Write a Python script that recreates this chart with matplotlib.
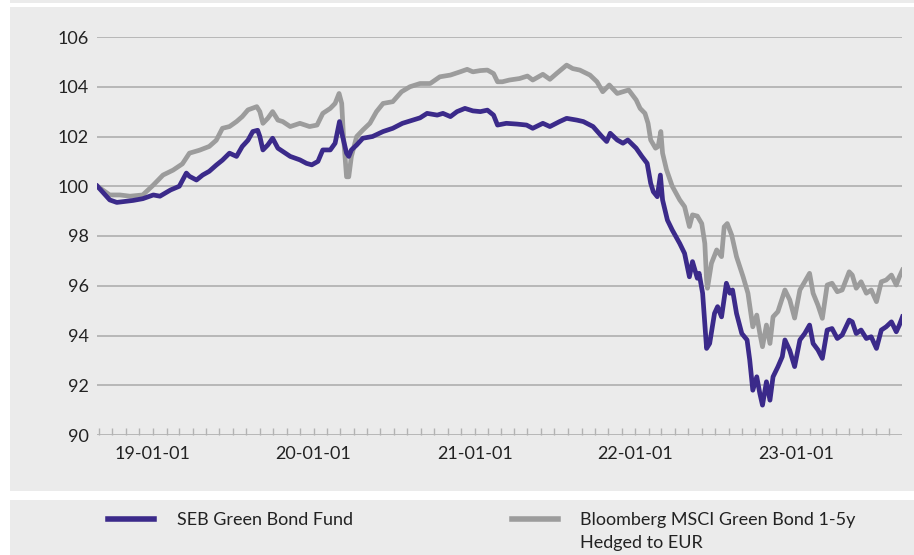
import matplotlib
matplotlib.use("Agg")
import numpy as np
import pandas as pd
import matplotlib.pyplot as plt
import matplotlib.dates as mdates
from matplotlib.patches import Rectangle
from matplotlib.lines import Line2D

plt.rcParams['font.family'] = ['Lato', 'DejaVu Sans']

# SEB Green Bond Fund (indexed)
seb_dates = [
    "2018-08-28", "2018-09-25", "2018-10-11", "2018-11-04", "2018-11-17", "2018-12-09",
    "2019-01-02", "2019-01-17", "2019-02-10", "2019-03-02", "2019-03-18", "2019-03-25",
    "2019-04-10", "2019-04-24", "2019-05-09", "2019-05-25", "2019-06-08", "2019-06-24",
    "2019-07-10", "2019-07-23", "2019-08-05", "2019-08-16", "2019-08-27", "2019-09-01",
    "2019-09-08", "2019-09-19", "2019-09-30", "2019-10-12", "2019-10-23", "2019-11-09",
    "2019-12-01", "2019-12-16", "2019-12-28", "2020-01-11", "2020-01-22", "2020-02-08",
    "2020-02-19", "2020-02-29", "2020-03-07", "2020-03-16", "2020-03-21", "2020-03-27",
    "2020-04-08", "2020-04-22", "2020-05-14", "2020-06-07", "2020-06-29", "2020-07-21",
    "2020-08-14", "2020-08-30", "2020-09-15", "2020-10-08", "2020-10-21", "2020-11-07",
    "2020-11-22", "2020-12-10", "2020-12-28", "2021-01-14", "2021-01-30", "2021-02-13",
    "2021-02-22", "2021-03-14", "2021-04-07", "2021-04-29", "2021-05-13", "2021-06-05",
    "2021-06-21", "2021-07-13", "2021-07-29", "2021-08-21", "2021-09-05", "2021-09-27",
    "2021-10-17", "2021-10-28", "2021-11-05", "2021-11-21", "2021-12-04", "2021-12-15",
    "2022-01-03", "2022-01-16", "2022-01-28", "2022-02-05", "2022-02-11", "2022-02-20",
    "2022-02-27", "2022-03-04", "2022-03-15", "2022-03-26", "2022-04-12", "2022-04-23",
    "2022-05-04", "2022-05-11", "2022-05-22", "2022-05-26", "2022-06-03", "2022-06-12",
    "2022-06-19", "2022-06-30", "2022-07-07", "2022-07-16", "2022-07-27", "2022-08-04",
    "2022-08-10", "2022-08-19", "2022-08-31", "2022-09-12", "2022-09-18", "2022-09-25",
    "2022-10-04", "2022-10-11", "2022-10-17", "2022-10-26", "2022-11-03", "2022-11-10",
    "2022-11-21", "2022-12-01", "2022-12-07", "2022-12-18", "2022-12-29", "2023-01-10",
    "2023-01-21", "2023-02-01", "2023-02-09", "2023-02-20", "2023-03-02", "2023-03-13",
    "2023-03-24", "2023-04-05", "2023-04-16", "2023-05-02", "2023-05-09", "2023-05-18",
    "2023-05-29", "2023-06-10", "2023-06-21", "2023-07-03", "2023-07-14", "2023-07-25",
    "2023-08-06", "2023-08-17", "2023-08-24", "2023-08-31",
]
seb_values = [
    100.0, 99.45, 99.35, 99.4, 99.43, 99.5,
    99.65, 99.6, 99.85, 100.0, 100.53, 100.4,
    100.25, 100.45, 100.6, 100.85, 101.05, 101.33,
    101.2, 101.6, 101.85, 102.2, 102.25, 102.0,
    101.46, 101.66, 101.93, 101.53, 101.4, 101.2,
    101.06, 100.92, 100.86, 101.0, 101.46, 101.46,
    101.73, 102.6, 102.0, 101.33, 101.2, 101.46,
    101.66, 101.93, 102.0, 102.2, 102.33, 102.53,
    102.66, 102.75, 102.93, 102.86, 102.93, 102.8,
    103.0, 103.13, 103.03, 103.0, 103.06, 102.86,
    102.46, 102.53, 102.5, 102.46, 102.33, 102.53,
    102.4, 102.6, 102.73, 102.66, 102.6, 102.4,
    102.0, 101.8, 102.13, 101.86, 101.73, 101.86,
    101.53, 101.2, 100.92, 100.12, 99.78, 99.58,
    100.45, 99.45, 98.64, 98.24, 97.7, 97.3,
    96.36, 96.97, 96.3, 96.5, 95.7, 93.48,
    93.68, 94.89, 95.16, 94.75, 96.1, 95.7,
    95.83, 94.89, 94.08, 93.82, 93.02, 91.8,
    92.34, 91.67, 91.2, 92.14, 91.4, 92.34,
    92.74, 93.15, 93.82, 93.4, 92.75, 93.82,
    94.08, 94.42, 93.68, 93.42, 93.08, 94.22,
    94.28, 93.88, 94.02, 94.62, 94.55, 94.08,
    94.22, 93.88, 93.95, 93.48, 94.22, 94.35,
    94.55, 94.15, 94.42, 94.75,
]

# Bloomberg MSCI Green Bond 1-5y Hedged to EUR
msci_dates = [
    "2018-08-28", "2018-09-25", "2018-10-18", "2018-11-10", "2018-12-09", "2019-01-02",
    "2019-01-24", "2019-02-16", "2019-03-09", "2019-03-25", "2019-04-17", "2019-05-09",
    "2019-05-25", "2019-06-08", "2019-06-24", "2019-07-10", "2019-07-23", "2019-08-05",
    "2019-08-25", "2019-09-01", "2019-09-08", "2019-09-19", "2019-09-30", "2019-10-12",
    "2019-10-23", "2019-11-09", "2019-12-01", "2019-12-23", "2020-01-09", "2020-01-22",
    "2020-02-08", "2020-02-19", "2020-02-28", "2020-03-05", "2020-03-09", "2020-03-16",
    "2020-03-21", "2020-03-27", "2020-04-08", "2020-04-22", "2020-05-08", "2020-05-23",
    "2020-06-07", "2020-06-29", "2020-07-19", "2020-08-07", "2020-08-30", "2020-09-22",
    "2020-10-14", "2020-11-07", "2020-11-29", "2020-12-15", "2020-12-28", "2021-01-14",
    "2021-01-30", "2021-02-13", "2021-02-22", "2021-03-05", "2021-03-21", "2021-04-13",
    "2021-05-01", "2021-05-13", "2021-06-05", "2021-06-21", "2021-07-06", "2021-07-29",
    "2021-08-12", "2021-08-28", "2021-09-20", "2021-10-06", "2021-10-19", "2021-11-03",
    "2021-11-21", "2021-12-04", "2021-12-17", "2022-01-03", "2022-01-12", "2022-01-23",
    "2022-01-30", "2022-02-05", "2022-02-16", "2022-02-22", "2022-02-28", "2022-03-04",
    "2022-03-13", "2022-03-26", "2022-04-12", "2022-04-23", "2022-05-04", "2022-05-11",
    "2022-05-22", "2022-06-01", "2022-06-08", "2022-06-12", "2022-06-14", "2022-06-23",
    "2022-07-05", "2022-07-16", "2022-07-22", "2022-07-29", "2022-08-08", "2022-08-19",
    "2022-09-03", "2022-09-14", "2022-09-25", "2022-10-04", "2022-10-11", "2022-10-17",
    "2022-10-26", "2022-11-03", "2022-11-10", "2022-11-21", "2022-12-07", "2022-12-18",
    "2022-12-29", "2023-01-10", "2023-01-21", "2023-02-01", "2023-02-09", "2023-02-20",
    "2023-03-02", "2023-03-13", "2023-03-24", "2023-04-05", "2023-04-16", "2023-05-02",
    "2023-05-09", "2023-05-18", "2023-05-29", "2023-06-10", "2023-06-21", "2023-07-03",
    "2023-07-14", "2023-07-25", "2023-08-06", "2023-08-17", "2023-08-24", "2023-08-31",
]
msci_values = [
    100.0, 99.65, 99.65, 99.6, 99.65, 100.05,
    100.45, 100.65, 100.9, 101.33, 101.45, 101.6,
    101.85, 102.33, 102.4, 102.6, 102.8, 103.07,
    103.2, 103.0, 102.53, 102.73, 103.0, 102.66,
    102.6, 102.4, 102.53, 102.4, 102.46, 102.93,
    103.13, 103.33, 103.73, 103.33, 102.0, 100.38,
    100.38, 101.2, 102.0, 102.26, 102.53, 103.0,
    103.33, 103.4, 103.8, 104.0, 104.13, 104.13,
    104.4, 104.47, 104.6, 104.7, 104.6, 104.65,
    104.67, 104.53, 104.2, 104.2, 104.27, 104.33,
    104.43, 104.27, 104.5, 104.3, 104.53, 104.87,
    104.73, 104.67, 104.47, 104.2, 103.8, 104.07,
    103.73, 103.8, 103.87, 103.47, 103.13, 102.93,
    102.53, 101.86, 101.53, 101.6, 102.2, 101.33,
    100.66, 100.0, 99.45, 99.18, 98.38, 98.85,
    98.8, 98.5, 97.7, 96.23, 95.9, 96.9,
    97.44, 97.17, 98.37, 98.5, 98.04, 97.17,
    96.36, 95.7, 94.35, 94.82, 94.08, 93.55,
    94.42, 93.68, 94.75, 94.96, 95.83, 95.43,
    94.7, 95.83, 96.16, 96.5, 95.7, 95.22,
    94.69, 96.03, 96.1, 95.76, 95.83, 96.56,
    96.43, 95.9, 96.16, 95.7, 95.83, 95.36,
    96.16, 96.23, 96.43, 96.03, 96.36, 96.63,
]

series_labels = ["SEB Green Bond Fund", "Bloomberg MSCI Green Bond 1-5y\nHedged to EUR"]
y_ticks = [90, 92, 94, 96, 98, 100, 102, 104, 106]

seb_color = "#3b2a8a"
msci_color = "#9c9c9c"
panel_color = "#ebebeb"
grid_color = "#b3b3b3"

W, H = 914, 555
fig = plt.figure(figsize=(W / 100, H / 100), dpi=100)
fig.patch.set_facecolor("white")

# grey panels behind chart and legend
def panel(x0, y0, x1, y1):
    fig.add_artist(Rectangle((x0 / W, 1 - y1 / H), (x1 - x0) / W, (y1 - y0) / H,
                             transform=fig.transFigure, facecolor=panel_color,
                             edgecolor="none", zorder=-10))

panel(10, 0, W, 3)
panel(10, 7, W, 491)
panel(10, 500, W, H)

ax = fig.add_axes([97 / W, 1 - 435 / H, (902 - 97) / W, (435 - 37) / H])
ax.patch.set_visible(False)

msci_x = pd.to_datetime(msci_dates)
seb_x = pd.to_datetime(seb_dates)
ax.plot(msci_x, msci_values, color=msci_color, lw=3.4, solid_joinstyle="round", zorder=3)
ax.plot(seb_x, seb_values, color=seb_color, lw=3.4, solid_joinstyle="round", zorder=4)

ax.set_ylim(90, 106)
ax.set_yticks(y_ticks)
ax.set_xlim(pd.Timestamp("2018-08-27"), pd.Timestamp("2023-08-30"))

ax.grid(axis="y", color=grid_color, lw=1.3)
ax.set_axisbelow(True)
for s in ax.spines.values():
    s.set_visible(False)

ax.xaxis.set_major_locator(mdates.YearLocator())
ax.xaxis.set_major_formatter(mdates.DateFormatter("%y-%m-%d"))
ax.xaxis.set_minor_locator(mdates.MonthLocator())
ax.tick_params(axis="x", which="both", direction="in", length=5, width=1,
               color=grid_color, pad=8, labelsize=13, labelcolor="#222222")
ax.tick_params(axis="y", length=0, pad=6, labelsize=13, labelcolor="#222222")

# legend drawn by hand in the lower panel
fig.add_artist(Line2D([108 / W, 154 / W], [1 - 519 / H] * 2, color=seb_color, lw=4,
                      transform=fig.transFigure))
fig.text(177 / W, 1 - 520 / H, series_labels[0], fontsize=13, color="#222222",
         va="center", ha="left")
fig.add_artist(Line2D([512 / W, 558 / W], [1 - 519 / H] * 2, color=msci_color, lw=4,
                      transform=fig.transFigure))
fig.text(580 / W, 1 - 512 / H, series_labels[1], fontsize=13, color="#222222",
         va="top", ha="left", linespacing=1.55)

fig.savefig("out.png", dpi=100)
